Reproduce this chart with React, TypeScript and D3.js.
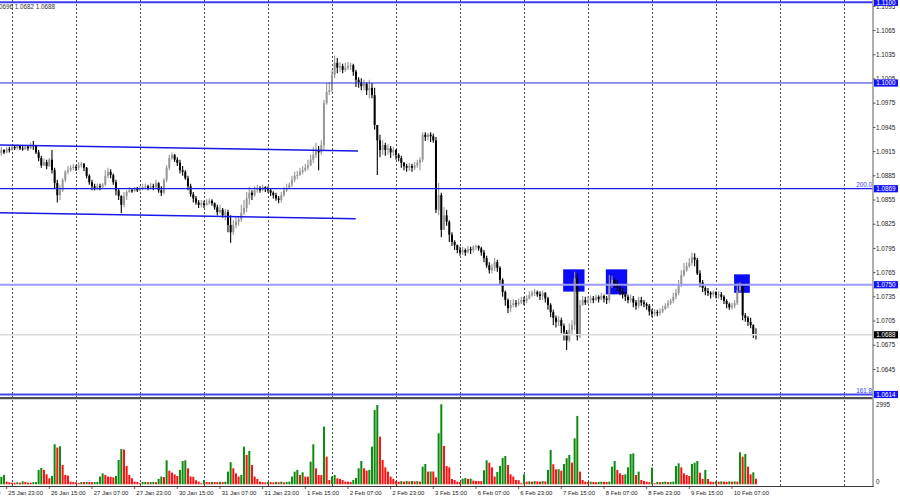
import React from 'react';
import * as d3 from 'd3';

// ---------- DATA ----------
const firstOpen = 1.0913;

const closes = [
  1.0917,1.0914,1.0918,1.0917,1.0921,1.0919,1.0922,1.0919,1.0918,1.0921,
  1.0919,1.0923,1.0922,1.0914,1.0907,1.0898,1.0902,1.0897,1.0905,1.0892,
  1.0876,1.0861,1.0867,1.0880,1.0890,1.0892,1.0895,1.0896,1.0895,1.0898,
  1.0900,1.0895,1.0885,1.0877,1.0872,1.0870,1.0872,1.0871,1.0874,1.0885,
  1.0890,1.0886,1.0877,1.0867,1.0860,1.0849,1.0860,1.0865,1.0867,1.0866,
  1.0869,1.0867,1.0870,1.0871,1.0872,1.0870,1.0872,1.0871,1.0876,1.0867,
  1.0864,1.0880,1.0895,1.0907,1.0911,1.0905,1.0901,1.0892,1.0890,1.0882,
  1.0872,1.0862,1.0857,1.0852,1.0849,1.0851,1.0849,1.0851,1.0854,1.0851,
  1.0846,1.0840,1.0843,1.0836,1.0840,1.0824,1.0815,1.0824,1.0828,1.0831,
  1.0839,1.0845,1.0857,1.0864,1.0861,1.0867,1.0870,1.0867,1.0871,1.0869,
  1.0867,1.0864,1.0861,1.0857,1.0855,1.0861,1.0867,1.0870,1.0874,1.0880,
  1.0885,1.0886,1.0890,1.0892,1.0895,1.0898,1.0905,1.0911,1.0917,1.0914,
  1.0923,1.0975,1.0989,1.0991,1.1010,1.1025,1.1019,1.1021,1.1016,1.1019,
  1.1021,1.1022,1.1014,1.1004,1.1001,1.0996,1.0999,1.0991,1.0994,1.0985,
  1.0948,1.0929,1.0917,1.0923,1.0917,1.0919,1.0914,1.0917,1.0911,1.0907,
  1.0901,1.0897,1.0895,1.0897,1.0895,1.0898,1.0901,1.0905,1.0936,1.0933,
  1.0936,1.0934,1.0929,1.0843,1.0861,1.0818,1.0836,1.0828,1.0812,1.0803,
  1.0799,1.0793,1.0790,1.0793,1.0790,1.0794,1.0793,1.0797,1.0798,1.0795,
  1.0790,1.0783,1.0774,1.0768,1.0771,1.0778,1.0771,1.0756,1.0741,1.0731,
  1.0721,1.0725,1.0727,1.0726,1.0728,1.0731,1.0730,1.0733,1.0737,1.0740,
  1.0741,1.0738,1.0736,1.0740,1.0733,1.0725,1.0716,1.0709,1.0704,1.0706,
  1.0699,1.0691,1.0681,1.0694,1.0700,1.0758,1.0686,1.0725,1.0731,1.0728,
  1.0731,1.0733,1.0731,1.0735,1.0732,1.0736,1.0733,1.0731,1.0750,1.0756,
  1.0752,1.0747,1.0742,1.0738,1.0735,1.0731,1.0733,1.0728,1.0724,1.0731,
  1.0728,1.0726,1.0724,1.0717,1.0714,1.0716,1.0715,1.0717,1.0720,1.0724,
  1.0727,1.0730,1.0735,1.0740,1.0750,1.0762,1.0768,1.0773,1.0777,1.0784,
  1.0781,1.0764,1.0753,1.0746,1.0742,1.0740,1.0738,1.0741,1.0737,1.0738,
  1.0735,1.0730,1.0726,1.0722,1.0724,1.0727,1.0743,1.0748,1.0712,1.0709,
  1.0704,1.0700,1.0689,1.0688,
];

const highs = [
  1.0921,1.0918,1.0921,1.0921,1.0923,1.0923,1.0924,1.0923,1.0922,1.0923,
  1.0923,1.0926,1.0928,1.0923,1.0917,1.0910,1.0906,1.0905,1.0907,1.0917,
  1.0895,1.0880,1.0874,1.0882,1.0892,1.0897,1.0898,1.0900,1.0898,1.0902,
  1.0902,1.0901,1.0896,1.0887,1.0880,1.0875,1.0875,1.0875,1.0876,1.0892,
  1.0895,1.0893,1.0888,1.0880,1.0870,1.0861,1.0865,1.0867,1.0871,1.0870,
  1.0871,1.0871,1.0872,1.0875,1.0875,1.0874,1.0876,1.0875,1.0880,1.0877,
  1.0872,1.0882,1.0898,1.0911,1.0914,1.0912,1.0908,1.0905,1.0897,1.0892,
  1.0885,1.0875,1.0865,1.0860,1.0855,1.0855,1.0854,1.0856,1.0857,1.0856,
  1.0852,1.0849,1.0849,1.0845,1.0844,1.0843,1.0836,1.0830,1.0834,1.0835,
  1.0849,1.0855,1.0865,1.0871,1.0867,1.0872,1.0874,1.0872,1.0874,1.0872,
  1.0872,1.0869,1.0866,1.0864,1.0860,1.0865,1.0871,1.0875,1.0877,1.0885,
  1.0890,1.0891,1.0895,1.0897,1.0900,1.0905,1.0911,1.0921,1.0926,1.0922,
  1.0929,1.0979,1.1000,1.1001,1.1016,1.1034,1.1031,1.1026,1.1024,1.1025,
  1.1026,1.1025,1.1024,1.1016,1.1007,1.1006,1.1004,1.1001,1.1004,1.1000,
  1.0994,1.0948,1.0936,1.0929,1.0926,1.0924,1.0922,1.0921,1.0918,1.0913,
  1.0910,1.0902,1.0900,1.0901,1.0900,1.0902,1.0905,1.0908,1.0939,1.0939,
  1.0938,1.0939,1.0937,1.0933,1.0876,1.0864,1.0846,1.0843,1.0830,1.0815,
  1.0805,1.0800,1.0797,1.0797,1.0795,1.0798,1.0797,1.0799,1.0800,1.0799,
  1.0797,1.0793,1.0786,1.0778,1.0776,1.0783,1.0781,1.0773,1.0758,1.0743,
  1.0733,1.0731,1.0732,1.0731,1.0733,1.0735,1.0735,1.0737,1.0742,1.0743,
  1.0745,1.0743,1.0742,1.0743,1.0741,1.0735,1.0727,1.0719,1.0712,1.0711,
  1.0709,1.0702,1.0694,1.0702,1.0706,1.0766,1.0764,1.0731,1.0736,1.0735,
  1.0736,1.0737,1.0736,1.0738,1.0737,1.0740,1.0738,1.0736,1.0762,1.0761,
  1.0758,1.0756,1.0750,1.0746,1.0741,1.0738,1.0738,1.0736,1.0731,1.0735,
  1.0735,1.0731,1.0728,1.0726,1.0720,1.0720,1.0719,1.0721,1.0724,1.0727,
  1.0731,1.0733,1.0740,1.0745,1.0756,1.0768,1.0777,1.0778,1.0783,1.0790,
  1.0789,1.0783,1.0768,1.0756,1.0748,1.0746,1.0742,1.0743,1.0742,1.0742,
  1.0741,1.0737,1.0732,1.0728,1.0728,1.0731,1.0752,1.0753,1.0751,1.0715,
  1.0711,1.0709,1.0701,1.0696,
];

const lows = [
  1.0910,1.0912,1.0913,1.0914,1.0916,1.0917,1.0918,1.0917,1.0916,1.0917,
  1.0916,1.0918,1.0917,1.0912,1.0903,1.0895,1.0897,1.0893,1.0896,1.0888,
  1.0870,1.0852,1.0855,1.0865,1.0877,1.0887,1.0890,1.0892,1.0891,1.0892,
  1.0895,1.0891,1.0882,1.0874,1.0867,1.0867,1.0867,1.0867,1.0869,1.0872,
  1.0882,1.0882,1.0874,1.0861,1.0855,1.0839,1.0846,1.0855,1.0864,1.0864,
  1.0865,1.0865,1.0866,1.0867,1.0869,1.0867,1.0869,1.0867,1.0870,1.0864,
  1.0860,1.0862,1.0877,1.0892,1.0905,1.0902,1.0897,1.0888,1.0885,1.0880,
  1.0867,1.0859,1.0852,1.0849,1.0845,1.0846,1.0845,1.0848,1.0849,1.0848,
  1.0843,1.0836,1.0838,1.0833,1.0830,1.0815,1.0802,1.0812,1.0820,1.0823,
  1.0828,1.0836,1.0840,1.0849,1.0855,1.0859,1.0864,1.0864,1.0866,1.0865,
  1.0864,1.0860,1.0857,1.0854,1.0851,1.0852,1.0859,1.0865,1.0869,1.0871,
  1.0877,1.0881,1.0885,1.0887,1.0890,1.0892,1.0897,1.0901,1.0907,1.0892,
  1.0911,1.0917,1.0973,1.0985,1.0989,1.1006,1.1012,1.1014,1.1012,1.1014,
  1.1016,1.1016,1.1009,1.0995,1.0994,1.0991,1.0991,1.0985,1.0981,1.0981,
  1.0942,1.0886,1.0908,1.0911,1.0910,1.0911,1.0907,1.0910,1.0905,1.0903,
  1.0895,1.0892,1.0890,1.0891,1.0890,1.0892,1.0895,1.0892,1.0902,1.0928,
  1.0929,1.0927,1.0926,1.0839,1.0836,1.0809,1.0820,1.0823,1.0803,1.0798,
  1.0793,1.0789,1.0786,1.0787,1.0786,1.0789,1.0788,1.0790,1.0793,1.0792,
  1.0786,1.0778,1.0771,1.0764,1.0764,1.0767,1.0766,1.0750,1.0735,1.0724,
  1.0715,1.0716,1.0722,1.0722,1.0724,1.0726,1.0725,1.0727,1.0732,1.0735,
  1.0736,1.0735,1.0731,1.0731,1.0728,1.0719,1.0710,1.0700,1.0697,1.0699,
  1.0690,1.0681,1.0669,1.0679,1.0688,1.0694,1.0681,1.0684,1.0724,1.0725,
  1.0726,1.0727,1.0727,1.0730,1.0728,1.0731,1.0728,1.0726,1.0728,1.0746,
  1.0746,1.0742,1.0737,1.0733,1.0730,1.0727,1.0728,1.0722,1.0719,1.0721,
  1.0724,1.0722,1.0719,1.0712,1.0710,1.0711,1.0711,1.0712,1.0715,1.0719,
  1.0721,1.0725,1.0727,1.0732,1.0737,1.0747,1.0760,1.0766,1.0771,1.0774,
  1.0773,1.0762,1.0747,1.0741,1.0737,1.0736,1.0733,1.0735,1.0733,1.0733,
  1.0731,1.0726,1.0721,1.0719,1.0719,1.0721,1.0725,1.0740,1.0706,1.0704,
  1.0699,1.0696,1.0684,1.0682,
];

const volumes = [
  280,
  350,100,75,60,60,75,60,110,90,60,
  60,80,85,540,610,540,375,225,310,1500,
  1375,1425,725,350,325,100,90,75,50,85,
  85,90,85,80,85,90,290,410,350,290,
  280,260,310,910,1320,1300,690,350,225,100,
  90,40,85,90,80,85,90,80,200,290,
  275,900,510,440,375,310,540,870,900,600,
  290,280,150,100,40,160,85,80,90,85,
  80,90,85,95,475,825,600,410,290,350,
  1410,1100,1250,725,290,200,100,80,70,90,
  80,70,90,80,100,70,90,100,290,475,
  540,350,450,290,285,850,1500,600,350,345,
  2160,1035,160,290,350,225,200,160,100,100,
  90,160,240,600,875,600,510,540,1410,2780,
  2970,1785,910,635,475,290,200,125,100,120,
  100,125,110,125,110,120,100,660,760,475,
  480,480,260,1910,2995,1435,685,635,200,160,
  100,90,210,235,200,210,140,125,125,120,
  525,900,810,635,290,460,690,985,1060,725,
  375,290,160,155,40,375,100,110,100,120,
  110,100,120,110,540,1285,750,560,565,510,
  760,975,1100,810,1720,2560,475,160,100,90,
  100,90,80,90,95,90,85,100,660,875,
  540,410,350,375,635,1135,1160,350,475,160,
  125,100,80,625,40,90,80,90,100,85,
  90,100,685,785,635,410,350,310,760,810,
  875,435,200,540,200,100,90,110,100,110,
  100,90,110,100,110,100,1200,1035,1135,660,
  375,450,210,
];

const timeLabels = [
  '25 Jan 07:00', '25 Jan 23:00', '26 Jan 15:00', '27 Jan 07:00', '27 Jan 23:00',
  '30 Jan 15:00', '31 Jan 07:00', '31 Jan 23:00', '1 Feb 15:00', '2 Feb 07:00',
  '2 Feb 23:00', '3 Feb 15:00', '6 Feb 07:00', '6 Feb 23:00', '7 Feb 15:00',
  '8 Feb 07:00', '8 Feb 23:00', '9 Feb 15:00', '10 Feb 07:00',
];
const timeLabelFirstBar = -14;
const timeLabelStep = 16;

const priceTicks = [
  1.1095, 1.1065, 1.1035, 1.1005, 1.0975, 1.0945, 1.0915, 1.0885,
  1.0855, 1.0825, 1.0795, 1.0765, 1.0735, 1.0705, 1.0675, 1.0645,
];

const levelPrices = [1.11, 1.1, 1.0869, 1.075, 1.0614];
const fiboLevels = [1.0869, 1.0614];
const fiboTexts = ['200.0', '161.8'];

const volumeTicks = [2995, 0];

// trend channel lines: [bar, price] pairs
const upperChannel = [[-0.5, 1.09232], [133.8, 1.09158]];
const lowerChannel = [[-0.5, 1.08393], [132.9, 1.08318]];

// rectangles: bar start, bar end, price top, price bottom
const zoneBarStart = [210.7, 226.7, 274.8];
const zoneBarEnd = [218.7, 234.7, 280.7];
const zoneTop = [1.07691, 1.07691, 1.07629];
const zoneBottom = [1.07415, 1.07381, 1.0740];

const gridFirstBar = 3.83;
const gridStep = 24;
const gridCount = 14;

const headerValues = [1.0689, 1.0696, 1.0682, 1.0688];

// ---------- CHART ----------
export default function App() {
  const plotRight = 873;
  const mainBottom = 397;
  const volTop = 399.5;
  const volBottom = 486.5;

  const x = d3.scaleLinear().domain([0, 24]).range([1.3, 65.3]);
  const y = d3.scaleLinear().domain([1.0614, 1.11]).range([394.5, 2.3]);
  const vy = d3.scaleLinear().domain([0, 2995]).range([484.3, 404.3]);

  const opens = closes.map((c, i) => (i === 0 ? firstOpen : closes[i - 1]));
  const lastClose = closes[closes.length - 1];

  const font = "'Liberation Sans', Arial, sans-serif";
  const fs = 6.3;

  const levelStyle = [
    { stroke: '#3c3cf2', w: 2 },
    { stroke: '#2a2ad8', w: 1 },
    { stroke: '#1e1ee6', w: 1.3 },
    { stroke: '#9c9cff', w: 2 },
    { stroke: '#4646f0', w: 2 },
  ];

  const line = d3.line<number[]>().x((d) => x(d[0])).y((d) => y(d[1]));

  return (
    <svg
      width={900}
      height={500}
      style={{ position: 'absolute', left: 0, top: 0, background: '#ffffff', display: 'block' }}
      fontFamily={font}
    >
      <defs>
        <clipPath id="mainClip">
          <rect x={0} y={0} width={plotRight} height={mainBottom} />
        </clipPath>
        <clipPath id="volClip">
          <rect x={0} y={volTop} width={plotRight} height={volBottom - volTop} />
        </clipPath>
      </defs>
      <rect x={0} y={0} width={900} height={500} fill="#ffffff" />

      {/* grid */}
      {d3.range(gridCount).map((k) => {
        const gx = Math.round(x(gridFirstBar + k * gridStep)) + 0.5;
        return (
          <line key={'g' + k} x1={gx} x2={gx} y1={0} y2={volBottom} stroke="#4a4a4a" strokeWidth={1} strokeDasharray="2,2" />
        );
      })}

      <g clipPath="url(#mainClip)">
        {/* zones */}
        {zoneBarStart.map((b, i) => (
          <rect
            key={'z' + i}
            x={x(b)}
            y={y(zoneTop[i])}
            width={x(zoneBarEnd[i]) - x(b)}
            height={y(zoneBottom[i]) - y(zoneTop[i])}
            fill="#0b0bf5"
          />
        ))}

        {/* candles */}
        {closes.map((c, i) => {
          const o = opens[i];
          const hi = Math.max(highs[i], o, c);
          const lo = Math.min(lows[i], o, c);
          const bull = c >= o;
          const col = bull ? '#979797' : '#000000';
          const cx = x(i);
          const top = y(Math.max(o, c));
          const bh = Math.max(1, y(Math.min(o, c)) - top);
          return (
            <g key={'c' + i}>
              <line x1={cx} x2={cx} y1={y(hi)} y2={y(lo)} stroke={col} strokeWidth={1.1} />
              <rect x={cx - 1} y={top} width={2} height={bh} fill={col} />
            </g>
          );
        })}

        {/* channel lines */}
        <path d={line(upperChannel) || ''} stroke="#1818e8" strokeWidth={1.6} fill="none" />
        <path d={line(lowerChannel) || ''} stroke="#1818e8" strokeWidth={1.6} fill="none" />

        {/* current price line */}
        <line x1={0} x2={plotRight} y1={y(lastClose)} y2={y(lastClose)} stroke="#dadada" strokeWidth={1.5} />

        {/* level lines */}
        {levelPrices.map((p, i) => (
          <line key={'l' + i} x1={0} x2={plotRight} y1={y(p)} y2={y(p)} stroke={levelStyle[i].stroke} strokeWidth={levelStyle[i].w} />
        ))}

        {/* fibo texts */}
        {fiboLevels.map((p, i) => (
          <text key={'f' + i} x={plotRight - 1} y={y(p) - 1.5} fontSize={6.3} fill="#3a3aff" textAnchor="end">
            {fiboTexts[i]}
          </text>
        ))}

        {/* header text */}
        <text x={55} y={9.3} fontSize={6.3} fill="#333" textAnchor="end">
          {headerValues.map((v) => v.toFixed(4)).join(' ')}
        </text>
      </g>

      {/* panel separator */}
      <line x1={0} x2={plotRight} y1={398.2} y2={398.2} stroke="#505050" strokeWidth={2.2} />

      {/* volumes */}
      <g clipPath="url(#volClip)">
        {volumes.map((v, i) => {
          const up = i === 0 || v > volumes[i - 1];
          const top = vy(v);
          return (
            <rect key={'v' + i} x={x(i) - 1} y={top} width={2} height={vy(0) - top} fill={up ? '#0e8a0e' : '#ff1010'} />
          );
        })}
      </g>

      {/* axes frame */}
      <line x1={plotRight} x2={plotRight} y1={0} y2={volBottom} stroke="#9a9a9a" strokeWidth={1.6} />
      <line x1={0} x2={plotRight + 0.8} y1={volBottom} y2={volBottom} stroke="#3a3a3a" strokeWidth={1} />

      {/* price ticks */}
      {priceTicks.map((p, i) => (
        <g key={'pt' + i}>
          <line x1={plotRight} x2={plotRight + 2.5} y1={y(p)} y2={y(p)} stroke="#555" strokeWidth={1} />
          <text x={plotRight + 3} y={y(p)} dy="0.35em" fontSize={fs} fill="#222">
            {p.toFixed(4)}
          </text>
        </g>
      ))}

      {/* level boxes */}
      {levelPrices.map((p, i) => (
        <g key={'lb' + i}>
          <rect x={plotRight + 1} y={y(p) - 3.6} width={24} height={7.2} fill="#1212ff" />
          <text x={plotRight + 13} y={y(p)} dy="0.35em" fontSize={fs} fill="#ffffff" textAnchor="middle">
            {p.toFixed(4)}
          </text>
        </g>
      ))}
      <g>
        <rect x={plotRight + 1} y={y(lastClose) - 3.6} width={24} height={7.2} fill="#000000" />
        <text x={plotRight + 13} y={y(lastClose)} dy="0.35em" fontSize={fs} fill="#ffffff" textAnchor="middle">
          {lastClose.toFixed(4)}
        </text>
      </g>

      {/* volume ticks */}
      {volumeTicks.map((v, i) => (
        <text key={'vt' + i} x={plotRight + 3} y={vy(v) - (v === 0 ? 2.5 : 0)} dy="0.35em" fontSize={fs} fill="#222">
          {v}
        </text>
      ))}

      {/* time labels */}
      {timeLabels.map((t, k) => {
        const bx = x(timeLabelFirstBar + k * timeLabelStep);
        return (
          <g key={'t' + k}>
            <line x1={bx} x2={bx} y1={volBottom} y2={volBottom + 2.5} stroke="#333" strokeWidth={0.8} />
            <text x={bx + 1.7} y={494.6} fontSize={6} fill="#222">
              {t}
            </text>
          </g>
        );
      })}
    </svg>
  );
}
